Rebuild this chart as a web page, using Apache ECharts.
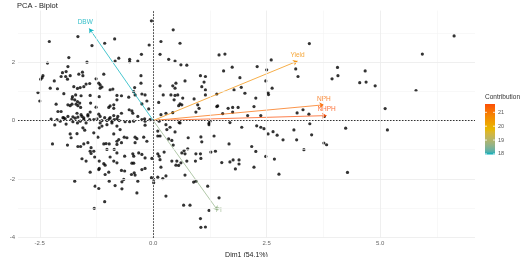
<!DOCTYPE html>
<html>
<head>
<meta charset="utf-8">
<script src="https://cdn.jsdelivr.net/npm/echarts@6/dist/echarts.min.js"></script>
<style>
  html, body { margin: 0; padding: 0; background: #fff; }
  #chart { width: 520px; height: 257px; }
</style>
</head>
<body>
<div id="chart"></div>
<script>
const xTicks = [-2.5, 0, 2.5, 5]
const xMinor = [-1.25, 1.25, 3.75, 6.25]
const yTicks = [-4, -2, 0, 2]
const yMinor = [-3, -1, 1, 3]
const legendTicks = [18, 19, 20, 21]

const varNames = ['DBW', 'Yield', 'NPH', 'NHPH', 'PI']
const varX = [-1.41, 3.18, 3.76, 3.82, 1.42]
const varY = [3.16, 2.04, 0.54, 0.17, -3.08]
const varContrib = [17.96, 20.6, 21.2, 21.6, 18.64]

// individuals (Dim1, Dim2)
const individuals = [
  [-2.29,2.71],[-1.66,2.88],[-1.86,2.16],[-2.33,1.97],[-1.46,2.00],[-1.88,1.85],[-2.00,1.64],[-1.92,1.68],
  [-2.03,1.51],[-1.93,1.51],[-1.83,1.54],[-2.43,1.54],[-2.45,1.47],[-2.48,1.42],[-2.18,1.36],[-1.89,1.42],
  [-1.64,1.59],[-1.56,1.66],[-1.55,1.54],[-1.48,1.25],[-1.40,1.27],[-2.27,1.11],[-2.11,1.09],[-1.75,1.16],
  [-1.67,1.10],[-1.61,1.13],[-1.53,1.16],[-2.54,0.96],[-1.97,0.92],[-2.50,0.67],[-1.78,0.82],[-1.71,0.88],
  [-1.59,0.85],[-1.79,0.74],[-1.73,0.71],[-1.67,0.65],[-1.70,0.56],[-1.66,0.51],[-1.62,0.60],[-2.14,0.56],
  [-1.88,0.54],[-1.83,0.51],[-1.79,0.56],[-1.39,0.86],[-1.38,0.60],[-2.10,0.31],[-2.03,0.31],[-1.60,0.45],
  [-1.68,0.25],[-1.59,0.20],[-1.88,0.14],[-1.97,0.09],[-1.77,0.13],[-1.66,0.12],[-1.53,0.09],[-1.44,0.16],
  [-1.39,0.29],[-1.44,0.20],
  [-1.35,2.57],[-1.07,2.65],[-0.85,2.80],[-0.09,2.59],[-0.84,2.04],[-0.76,2.14],[-0.52,2.10],[-0.52,2.02],
  [-0.26,2.27],[-0.34,2.04],[-1.09,1.59],[-1.26,1.43],[-1.20,1.28],[-1.17,1.22],[-1.13,1.15],[-1.17,1.11],
  [-0.95,1.05],[-0.89,1.08],[-0.27,1.54],[-0.27,1.28],[-0.41,1.13],[-0.43,0.99],[-0.40,0.88],[-0.54,0.80],
  [-0.80,0.86],[-0.70,0.85],[-0.80,0.71],[-1.19,0.82],[-0.25,0.91],[-0.18,0.88],[-0.14,0.67],[-0.25,0.57],
  [-0.98,0.45],[-0.95,0.50],[-0.87,0.54],[-0.87,0.42],[-1.26,0.46],[-0.53,0.37],[-0.47,0.33],[-0.45,0.25],
  [-0.10,0.40],[-0.70,0.25],[-1.20,0.22],[-1.17,0.14],[-1.07,0.10],[-0.95,0.10],[-0.87,0.17],[-0.78,0.14],
  [-0.34,0.14],[-0.19,0.06],[-0.04,3.42],
  [0.44,3.11],[0.17,2.71],[0.59,2.65],[0.15,2.27],[0.34,2.10],[0.48,2.04],[0.61,1.91],[0.74,1.90],
  [1.45,2.25],[1.58,2.28],[1.04,1.54],[1.15,1.51],[0.70,1.36],[1.12,1.32],[0.15,1.19],[0.43,1.19],
  [0.48,1.11],[0.50,1.28],[1.07,1.16],[0.22,0.88],[0.39,0.88],[0.48,0.86],[0.54,0.88],[0.65,0.77],
  [0.90,0.74],[1.15,0.88],[0.46,0.71],[0.59,0.57],[0.63,0.54],[0.56,0.51],[0.98,0.54],[1.01,0.42],
  [0.12,0.62],[1.42,0.50],[0.94,0.29],[0.43,0.27],[0.28,0.25],[0.17,0.20],
  [1.55,1.70],[1.74,1.83],[2.29,1.85],[2.60,2.08],[2.50,1.74],[3.44,2.64],[3.14,1.77],[3.19,1.51],
  [3.94,1.43],[4.06,1.82],[4.07,1.54],[1.91,1.47],[1.15,1.05],[1.78,1.05],[1.94,1.14],[2.48,1.36],
  [2.54,0.89],[2.53,0.96],[2.62,1.11],[2.02,0.94],[2.26,0.77],[1.40,0.91],[1.40,0.48],[1.65,0.42],
  [1.75,0.45],[1.87,0.45],[2.22,0.48],[2.37,0.17],[2.08,0.17],[1.75,0.29],[1.53,0.24],[3.30,0.37],
  [3.43,0.22],[3.77,0.14],[3.17,0.26],
  [6.63,2.90],[5.93,2.28],[4.67,1.70],[4.55,1.30],[4.69,1.32],[4.89,1.19],[5.79,1.03],[5.11,0.41],
  [4.24,-0.26],[5.16,-0.32],[4.28,-1.78],[1.67,-0.80],[1.51,-1.44],[1.69,-1.42],[1.76,-1.35],[1.81,-1.66],
  [1.89,-1.35],[1.89,-1.49],[2.17,-0.89],[2.26,-1.06],[2.22,-1.60],[2.48,-1.23],[2.67,-1.32],[2.77,-1.84],
  [2.28,-0.18],[2.37,-0.23],[2.44,-0.28],[2.53,-0.46],[2.64,-0.38],[2.73,-0.50],[2.86,-0.66],[3.10,-0.32],
  [3.16,-0.66],[3.32,-1.00],[3.49,-0.49],[3.76,-0.77],[3.82,-0.83],[0.57,-0.07],[1.23,-0.09],[1.69,-0.07],
  [1.95,-0.23],[3.45,-0.11],
  [0.10,-0.36],[0.10,-0.53],[0.15,-0.53],[0.34,-0.63],[0.41,-0.68],[0.44,-0.84],[0.77,-0.59],[1.05,-0.56],
  [1.07,-0.73],[1.34,-0.53],[0.68,-1.03],[0.76,-0.97],[0.70,-1.14],[0.63,-1.11],[0.94,-1.14],[1.04,-1.14],
  [1.05,-1.30],[0.93,-1.39],[1.27,-1.08],[1.37,-1.05],[0.10,-1.14],[0.13,-1.22],[0.15,-1.34],[0.24,-1.08],
  [0.41,-1.39],[0.52,-1.39],[0.50,-1.53],[0.56,-1.54],[0.61,-1.45],[0.74,-1.39],[0.17,-1.60],[0.10,-1.94],
  [0.21,-1.99],[0.28,-1.90],[0.70,-1.87],[0.89,-2.11],[0.94,-2.08],[1.20,-2.25],[1.45,-2.65],[0.28,-2.59],
  [0.67,-2.90],[0.81,-2.90],[1.23,-3.08],[1.04,-3.36],[1.05,-3.66],[1.15,-3.65],[0.28,-0.14],[0.37,-0.23],
  [0.30,-0.31],[0.48,-0.39],[0.13,-0.02],[0.59,-0.08],[1.23,-0.14],[1.25,-0.02],
  [-2.22,-0.80],[-1.89,-0.84],[-1.83,-0.46],[-1.81,-0.59],[-1.68,-0.45],[-1.55,-0.25],[-1.51,-0.33],[-1.66,-0.89],
  [-1.60,-0.89],[-1.53,-0.80],[-1.44,-0.76],[-1.37,-0.93],[-1.39,-1.05],[-1.37,-1.13],[-1.57,-1.31],[-1.48,-1.39],
  [-1.39,-1.77],[-1.73,-2.08],[-2.12,0.03],[-1.94,0.06],[-1.81,0.03],[-1.77,-0.04],[-1.67,-0.08],[-1.61,-0.02],
  [-1.53,0.03],[-1.48,-0.08],[-1.40,0.03],[-2.25,0.05],[-2.05,-0.02],[-1.99,0.10],[-1.72,0.08],[-1.57,0.14],
  [-2.17,-0.15],[-1.92,-0.12],
  [-1.31,0.03],[-1.24,0.06],[-1.13,0.00],[-1.02,0.00],[-0.97,0.06],[-0.91,-0.02],[-0.86,0.03],[-0.80,0.06],
  [-0.75,0.00],[-0.62,-0.04],[-0.52,-0.04],[-0.43,-0.02],[-0.25,0.03],[-0.18,-0.02],[-0.07,0.03],
  [-1.31,-0.42],[-1.17,-0.08],[-1.13,-0.19],[-1.19,-0.25],[-1.02,-0.14],[-0.91,-0.08],[-0.80,-0.19],[-0.73,-0.31],
  [-0.18,-0.16],[-0.87,-0.46],[-1.22,-0.57],[-0.76,-0.65],[-0.80,-0.71],[-0.64,-0.57],[-0.58,-0.59],[-0.40,-0.57],
  [-0.36,-0.62],[-0.21,-0.57],[-1.09,-0.80],[-1.04,-0.79],[-0.97,-0.80],[-0.80,-0.82],[-0.70,-0.76],[-0.40,-0.76],
  [-0.14,-0.71],[-1.31,-1.05],[-1.02,-0.99],[-0.86,-0.99],[-0.80,-1.11],[-0.45,-1.14],[-0.43,-1.22],[-0.32,-1.11],
  [-0.25,-1.16],[-0.95,-1.25],[-0.63,-1.22],[-1.29,-1.25],[-0.18,-1.28],[-0.03,-1.30],[-1.19,-1.39],[-1.09,-1.48],
  [-1.06,-1.53],[-0.47,-1.46],[-0.43,-1.46],[-0.87,-1.39],[-0.80,-1.45],[-1.19,-1.64],[-1.20,-1.68],[-0.63,-1.73],
  [-0.70,-1.71],[-0.25,-1.68],[-0.18,-1.64],[-0.98,-1.77],[-1.06,-1.85],[-0.42,-1.79],[-0.40,-1.87],[-0.48,-1.85],
  [-0.97,-2.08],[-0.65,-2.02],[-0.69,-2.10],[-0.34,-2.08],[-0.04,-1.96],[0.01,-2.02],[0.01,-2.13],[-1.28,-2.25],
  [-1.20,-2.33],[-0.84,-2.23],[-0.69,-2.34],[-0.36,-2.48],[-1.07,-2.78],[-1.30,-3.01]
]

const gradCols = ['#00AFBB', '#E7B800', '#FC4E07']
const cMin = Math.min(...varContrib)
const cMax = Math.max(...varContrib)

// colours are blended in Lab space, like ggplot's gradientn
function toLab(hex) {
  const rgb = [1, 3, 5].map((i) => parseInt(hex.slice(i, i + 2), 16) / 255)
    .map((c) => (c > 0.04045 ? Math.pow((c + 0.055) / 1.055, 2.4) : c / 12.92))
  const X = (rgb[0] * 0.4124 + rgb[1] * 0.3576 + rgb[2] * 0.1805) / 0.95047
  const Y = rgb[0] * 0.2126 + rgb[1] * 0.7152 + rgb[2] * 0.0722
  const Z = (rgb[0] * 0.0193 + rgb[1] * 0.1192 + rgb[2] * 0.9505) / 1.08883
  const f = (t) => (t > 0.008856 ? Math.cbrt(t) : 7.787 * t + 16 / 116)
  return [116 * f(Y) - 16, 500 * (f(X) - f(Y)), 200 * (f(Y) - f(Z))]
}
function fromLab(lab) {
  const fy = (lab[0] + 16) / 116
  const fx = fy + lab[1] / 500
  const fz = fy - lab[2] / 200
  const inv = (t) => (t ** 3 > 0.008856 ? t ** 3 : (t - 16 / 116) / 7.787)
  const X = inv(fx) * 0.95047, Y = inv(fy), Z = inv(fz) * 1.08883
  const lin = [
    X * 3.2406 - Y * 1.5372 - Z * 0.4986,
    -X * 0.9689 + Y * 1.8758 + Z * 0.0415,
    X * 0.0557 - Y * 0.204 + Z * 1.057,
  ]
  const c = lin.map((v) => (v > 0.0031308 ? 1.055 * Math.pow(v, 1 / 2.4) - 0.055 : 12.92 * v))
    .map((v) => Math.round(Math.max(0, Math.min(1, v)) * 255))
  return `rgb(${c[0]},${c[1]},${c[2]})`
}
function gradColor(t) {
  t = Math.max(0, Math.min(1, t)) * (gradCols.length - 1)
  const i = Math.min(Math.floor(t), gradCols.length - 2)
  const f = t - i
  const a = toLab(gradCols[i])
  const b = toLab(gradCols[i + 1])
  return fromLab(a.map((x, k) => x + (b[k] - x) * f))
}
const contribColor = (v) => gradColor((v - cMin) / (cMax - cMin))

const chart = echarts.init(document.getElementById('chart'))
const font = 'Liberation Sans, Arial, sans-serif'

// colour bar geometry
const bar = { x: 485, top: 104, bottom: 154.5, w: 10 }
const barY = (v) => bar.bottom - ((v - cMin) / (cMax - cMin)) * (bar.bottom - bar.top)

const stops = []
for (let k = 0; k <= 20; k++) stops.push({ offset: k / 20, color: gradColor(1 - k / 20) })

const legendGraphics = [
  {
    type: 'text', x: 485, y: 97.5,
    style: { text: 'Contribution', font: `6.5px ${font}`, fill: '#333', verticalAlign: 'middle' },
  },
  {
    type: 'rect',
    shape: { x: bar.x, y: bar.top, width: bar.w, height: bar.bottom - bar.top },
    style: { fill: new echarts.graphic.LinearGradient(0, 0, 0, 1, stops) },
  },
]
legendTicks.forEach((v) => {
  const y = barY(v)
  legendGraphics.push(
    { type: 'line', shape: { x1: bar.x, y1: y, x2: bar.x + 2, y2: y }, style: { stroke: '#fff', lineWidth: 0.8 } },
    { type: 'line', shape: { x1: bar.x + bar.w - 2, y1: y, x2: bar.x + bar.w, y2: y }, style: { stroke: '#fff', lineWidth: 0.8 } },
    {
      type: 'text', x: bar.x + bar.w + 3, y: y,
      style: { text: String(v), font: `5.5px ${font}`, fill: '#555', verticalAlign: 'middle' },
    }
  )
})

const gridLine = (key, major) => (v) => ({
  [key]: v,
  lineStyle: { color: major ? '#ebebeb' : '#f3f3f3', width: major ? 0.8 : 0.6, type: 'solid' },
})

chart.setOption({
  animation: false,
  backgroundColor: '#fff',
  title: {
    text: 'PCA - Biplot',
    left: 17,
    top: 2,
    padding: 0,
    textStyle: { fontSize: 7.5, fontWeight: 'normal', color: '#222', fontFamily: font },
  },
  grid: { left: 18, right: 45, top: 10.6, bottom: 19.2, containLabel: false, outerBoundsMode: 'none' },
  xAxis: {
    type: 'value',
    min: -2.98,
    max: 7.09,
    name: 'Dim1 (54.1%)',
    nameLocation: 'middle',
    nameGap: 9.5,
    nameTextStyle: { fontSize: 7, color: '#222', fontFamily: font },
    axisLine: { show: false },
    axisTick: { show: true, customValues: xTicks, length: 1.5, lineStyle: { color: '#aaa' } },
    axisLabel: {
      customValues: xTicks,
      formatter: (v) => v.toFixed(1),
      fontSize: 6,
      color: '#666',
      margin: 3,
      fontFamily: font,
    },
    splitLine: { show: false },
  },
  yAxis: {
    type: 'value',
    min: -4.02,
    max: 3.77,
    name: 'Dim2 (32.6%)',
    nameLocation: 'middle',
    nameGap: 10,
    nameTextStyle: { fontSize: 7, color: '#222', fontFamily: font },
    axisLine: { show: false },
    axisTick: { show: true, customValues: yTicks, length: 1.5, lineStyle: { color: '#aaa' } },
    axisLabel: {
      customValues: yTicks,
      formatter: (v) => String(v),
      fontSize: 6,
      color: '#666',
      margin: 3,
      fontFamily: font,
    },
    splitLine: { show: false },
  },
  graphic: legendGraphics,
  series: [
    {
      // panel grid
      type: 'line',
      data: [],
      silent: true,
      z: 0,
      markLine: {
        silent: true,
        symbol: 'none',
        label: { show: false },
        animation: false,
        data: [
          ...xMinor.map(gridLine('xAxis', false)),
          ...yMinor.map(gridLine('yAxis', false)),
          ...xTicks.map(gridLine('xAxis', true)),
          ...yTicks.map(gridLine('yAxis', true)),
        ],
      },
    },
    {
      // zero reference lines
      type: 'line',
      data: [],
      silent: true,
      z: 1,
      markLine: {
        silent: true,
        symbol: 'none',
        label: { show: false },
        animation: false,
        lineStyle: { color: '#333', width: 1, type: [1.5, 1.5] },
        data: [{ xAxis: 0 }, { yAxis: 0 }],
      },
    },
    {
      type: 'scatter',
      data: individuals,
      symbolSize: 3.2,
      itemStyle: { color: '#000' },
      z: 2,
    },
    {
      type: 'lines',
      coordinateSystem: 'cartesian2d',
      symbol: ['none', 'arrow'],
      symbolSize: 4.5,
      z: 3,
      data: varNames.map((n, i) => ({
        coords: [[0, 0], [varX[i], varY[i]]],
        lineStyle: { color: contribColor(varContrib[i]), width: 0.8, opacity: 0.9 },
      })),
    },
    {
      type: 'scatter',
      symbolSize: 1,
      itemStyle: { color: 'transparent' },
      z: 4,
      data: varNames.map((n, i) => ({
        value: [varX[i], varY[i]],
        name: n,
        label: {
          show: true,
          formatter: n,
          position: varY[i] < 0 ? 'inside' : 'top',
          offset: varY[i] < 0 ? [1, 0] : (varX[i] < 0 ? [-4, 0] : [0, 0]),
          distance: 2,
          color: contribColor(varContrib[i]),
          fontSize: 6.5,
          fontFamily: font,
        },
      })),
    },
  ],
})
</script>
</body>
</html>
